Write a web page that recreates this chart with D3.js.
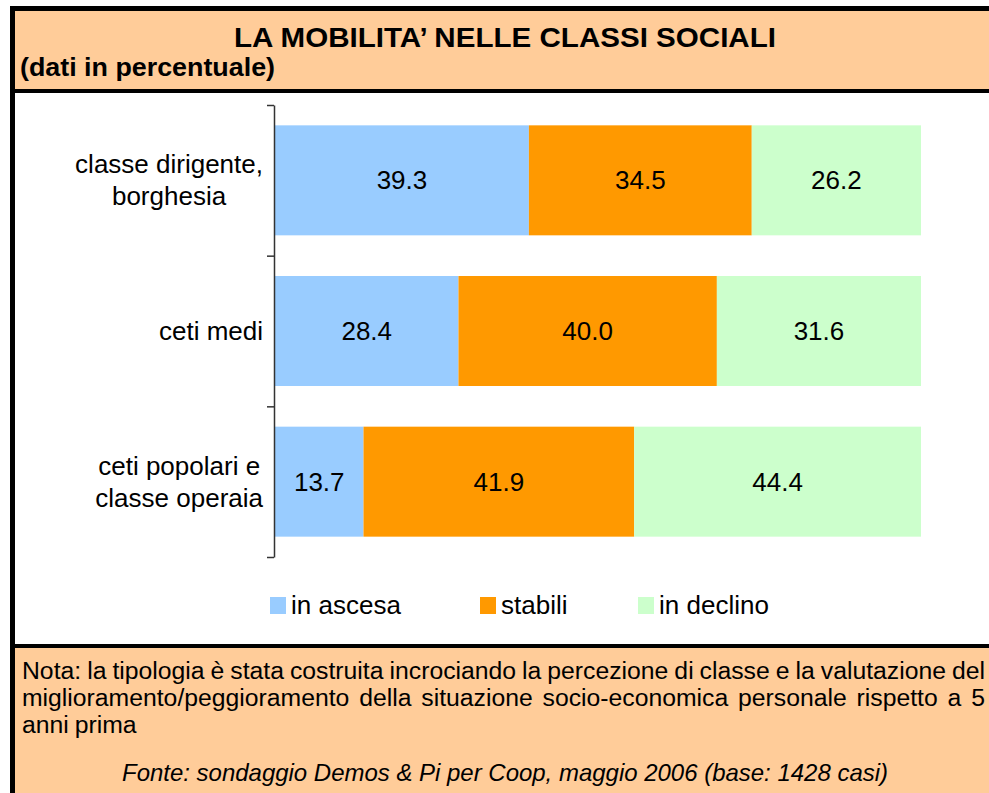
<!DOCTYPE html>
<html>
<head>
<meta charset="utf-8">
<script src="https://cdn.jsdelivr.net/npm/d3@7"></script>
<style>
	body { margin: 0; background: #ffffff; }
	svg { display: block; font-family: "Liberation Sans", Arial, sans-serif; }
</style>
</head>
<body>
<svg id="chart" width="989" height="793"></svg>
<script>
"use strict";

var categories = [["classe dirigente,", "borghesia"], ["ceti medi"], ["ceti popolari e", "classe operaia"]];
var seriesNames = ["in ascesa", "stabili", "in declino"];
var seriesColors = ["#99CCFF", "#FF9900", "#CCFFCC"];
var inAscesa = [39.3, 28.4, 13.7];
var stabili = [34.5, 40.0, 41.9];
var inDeclino = [26.2, 31.6, 44.4];

var titleText = "LA MOBILITA\u2019 NELLE CLASSI SOCIALI";
var subtitleText = "(dati in percentuale)";
var notaLines = [
	"Nota: la tipologia è stata costruita incrociando la percezione di classe e la valutazione del",
	"miglioramento/peggioramento della situazione socio-economica personale rispetto a 5",
	"anni prima"
];
var fonteText = "Fonte: sondaggio Demos & Pi per Coop, maggio 2006 (base: 1428 casi)";

var svg = d3.select('#chart');

// header / footer boxes
svg.append('rect').attr('x', 10).attr('y', 6).attr('width', 979).attr('height', 5).attr('fill', '#000');
svg.append('rect').attr('x', 14).attr('y', 11).attr('width', 975).attr('height', 78).attr('fill', '#FFCC99');
svg.append('rect').attr('x', 10).attr('y', 89).attr('width', 979).attr('height', 4).attr('fill', '#000');
svg.append('rect').attr('x', 10).attr('y', 644).attr('width', 979).attr('height', 4).attr('fill', '#000');
svg.append('rect').attr('x', 15).attr('y', 648).attr('width', 974).attr('height', 145).attr('fill', '#FFCC99');
svg.append('rect').attr('x', 10).attr('y', 6).attr('width', 5).attr('height', 787).attr('fill', '#000');

svg.append('text')
	.attr('x', 234).attr('y', 47)
	.attr('font-size', 28).attr('font-weight', 'bold')
	.attr('textLength', 542).attr('lengthAdjust', 'spacingAndGlyphs')
	.text(titleText);
svg.append('text')
	.attr('x', 20).attr('y', 76)
	.attr('font-size', 26).attr('font-weight', 'bold')
	.attr('textLength', 255).attr('lengthAdjust', 'spacingAndGlyphs')
	.text(subtitleText);

// chart
var rows = categories.map(function(c, i){
	return {cat: i, values: [inAscesa[i], stabili[i], inDeclino[i]]};
});

var x = d3.scaleLinear().domain([0, 100]).range([275, 921]);
var y = d3.scaleBand().domain(d3.range(categories.length)).range([105, 557])
	.paddingInner(0.27).paddingOuter(0.135);
var yEdge = d3.scaleLinear().domain([0, categories.length]).range([105, 557]);

var stack = rows.map(function(r){
	var acc = 0;
	return r.values.map(function(v, k){
		var seg = {cat: r.cat, k: k, v: v, x0: acc, x1: acc + v};
		acc += v;
		return seg;
	});
});

var g = svg.append('g');
var rowG = g.selectAll('.row').data(stack).enter().append('g').attr('class', 'row');
rowG.selectAll('rect').data(function(d){ return d; }).enter().append('rect')
	.attr('x', function(d){ return x(d.x0); })
	.attr('y', function(d){ return y(d.cat); })
	.attr('width', function(d){ return x(d.x1) - x(d.x0); })
	.attr('height', y.bandwidth())
	.attr('fill', function(d){ return seriesColors[d.k]; });
rowG.selectAll('text').data(function(d){ return d; }).enter().append('text')
	.attr('x', function(d){ return (x(d.x0) + x(d.x1)) / 2; })
	.attr('y', function(d){ return y(d.cat) + y.bandwidth() / 2 + 9; })
	.attr('text-anchor', 'middle')
	.attr('font-size', 26)
	.text(function(d){ return d.v.toFixed(1); });

// axis with ticks at band edges
var axis = d3.axisLeft(yEdge).tickValues(d3.range(categories.length + 1)).tickFormat('').tickSize(7).tickSizeOuter(0);
var axG = g.append('g').attr('transform', 'translate(274,0)').call(axis);
axG.selectAll('path, line').attr('stroke', '#333').attr('stroke-width', 1.5);

// category labels: block right aligned, lines centred
categories.forEach(function(lines, i){
	var t = g.append('text').attr('font-size', 26).attr('text-anchor', 'middle');
	var cy = y(i) + y.bandwidth() / 2;
	var lh = 32;
	var spans = lines.map(function(l, j){
		return t.append('tspan').attr('y', cy + 9 - (lines.length - 1) * lh / 2 + j * lh).text(l);
	});
	var w = d3.max(spans, function(s){ return s.node().getComputedTextLength(); });
	spans.forEach(function(s){ s.attr('x', 263 - w / 2); });
});

// legend
var legendX = [270, 480, 638];
var lg = g.selectAll('.leg').data(seriesNames).enter().append('g').attr('class', 'leg')
	.attr('transform', function(d, i){ return 'translate(' + legendX[i] + ',597)'; });
lg.append('rect').attr('width', 16).attr('height', 17).attr('fill', function(d, i){ return seriesColors[i]; });
lg.append('text').attr('x', 21).attr('y', 17).attr('font-size', 26).text(function(d){ return d; });

// footer notes, justified word by word; first line sets the glyph squeeze
var fy = [679, 706, 733];
var left = 22, right = 985, space = 6;
var squeeze = 1;
notaLines.forEach(function(l, i){
	var words = l.split(' ');
	var ws = words.map(function(w){
		return svg.append('text').attr('y', fy[i]).attr('font-size', 23).text(w);
	});
	var nat = ws.map(function(t){ return t.node().getComputedTextLength(); });
	if (i === 0) {
		squeeze = (right - left - space * (words.length - 1)) / d3.sum(nat);
	}
	var widths = nat.map(function(w){ return w * squeeze; });
	ws.forEach(function(t, j){ t.attr('textLength', widths[j]).attr('lengthAdjust', 'spacingAndGlyphs'); });
	var gap = space;
	if (i < notaLines.length - 1) {
		gap = (right - left - d3.sum(widths)) / (words.length - 1);
	}
	var pos = left;
	ws.forEach(function(t, j){ t.attr('x', pos); pos += widths[j] + gap; });
});
svg.append('text')
	.attr('x', 505).attr('y', 781)
	.attr('text-anchor', 'middle')
	.attr('font-size', 24).attr('font-style', 'italic')
	.attr('textLength', 766).attr('lengthAdjust', 'spacingAndGlyphs')
	.text(fonteText);
</script>
</body>
</html>
